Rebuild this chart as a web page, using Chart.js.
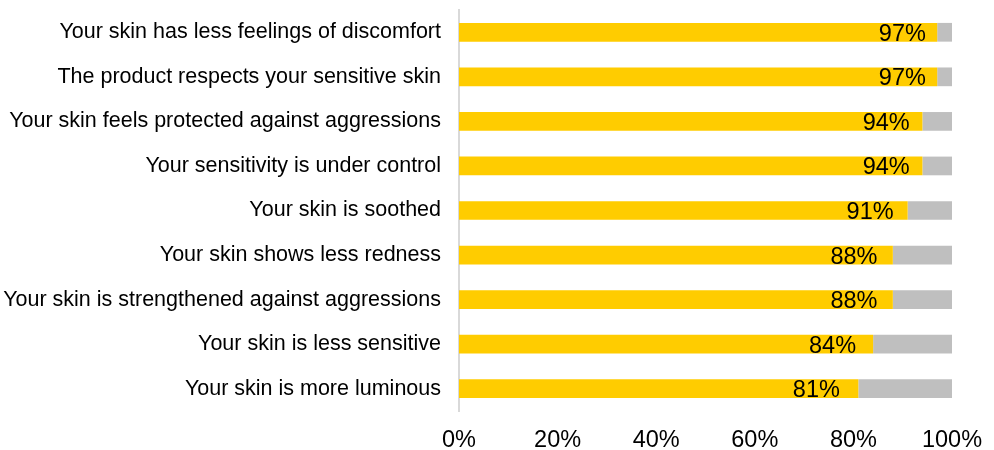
<!DOCTYPE html>
<html>
<head>
<meta charset="utf-8">
<script src="https://cdn.jsdelivr.net/npm/chart.js@4/dist/chart.umd.min.js"></script>
<style>
  html, body { margin: 0; padding: 0; background: #fff; }
  #wrap { width: 994px; height: 450px; }
</style>
</head>
<body>
<div id="wrap"><canvas id="c" width="994" height="450"></canvas></div>
<script>
// Survey statements and share of agreement (%)
const categories = [
  'Your skin has less feelings of discomfort',
  'The product respects your sensitive skin',
  'Your skin feels protected against aggressions',
  'Your sensitivity is under control',
  'Your skin is soothed',
  'Your skin shows less redness',
  'Your skin is strengthened against aggressions',
  'Your skin is less sensitive',
  'Your skin is more luminous'
];
const agreeValues = [97, 97, 94, 94, 91, 88, 88, 84, 81];
const restValues = agreeValues.map(v => 100 - v);
const xTickLabels = ['0%', '20%', '40%', '60%', '80%', '100%'];

const FONT = '"Liberation Sans", Arial, sans-serif';

// Draws the percentage just inside the end of each yellow bar
const valueLabels = {
  id: 'valueLabels',
  afterDatasetsDraw(chart) {
    const { ctx, scales } = chart;
    const meta = chart.getDatasetMeta(0);
    const xEnd = scales.x.getPixelForValue(100);
    ctx.save();
    ctx.font = '23.5px ' + FONT;
    ctx.fillStyle = '#000';
    ctx.textAlign = 'right';
    ctx.textBaseline = 'middle';
    meta.data.forEach((bar, i) => {
      const x = bar.x;
      const right = x - 10 - (xEnd - x) * 0.09;
      ctx.fillText(agreeValues[i] + '%', right, bar.y + 2);
    });
    ctx.restore();
  }
};

new Chart(document.getElementById('c'), {
  type: 'bar',
  data: {
    labels: categories,
    datasets: [
      { data: agreeValues, backgroundColor: '#FFCC00', borderWidth: 0 },
      { data: restValues, backgroundColor: '#BFBFBF', borderWidth: 0 }
    ]
  },
  options: {
    indexAxis: 'y',
    responsive: false,
    animation: false,
    layout: { padding: { top: 10, right: 42, left: 0, bottom: 0 } },
    datasets: { bar: { categoryPercentage: 1, barPercentage: 0.42 } },
    plugins: { legend: { display: false }, tooltip: { enabled: false } },
    scales: {
      x: {
        stacked: true,
        min: 0,
        max: 100,
        grid: { display: false, drawTicks: false },
        border: { display: false },
        afterFit(scale) {
          scale.height = 39;
          scale.paddingLeft = 0;
          scale.paddingRight = 0;
        },
        afterBuildTicks(scale) {
          scale.ticks = xTickLabels.map((t, i) => ({ value: i * 20 }));
        },
        ticks: {
          padding: 15,
          color: '#000',
          font: { family: FONT, size: 23.5 },
          maxRotation: 0,
          callback: (v, i) => xTickLabels[i]
        }
      },
      y: {
        stacked: true,
        grid: { display: false, drawTicks: false },
        border: { display: true, color: '#D9D9D9', width: 2 },
        afterFit(scale) {
          scale.width = 459;
          scale.paddingTop = 0;
          scale.paddingBottom = 0;
        },
        ticks: {
          padding: 18,
          color: '#000',
          font: { family: FONT, size: 21.5 }
        }
      }
    }
  },
  plugins: [valueLabels]
});
</script>
</body>
</html>
